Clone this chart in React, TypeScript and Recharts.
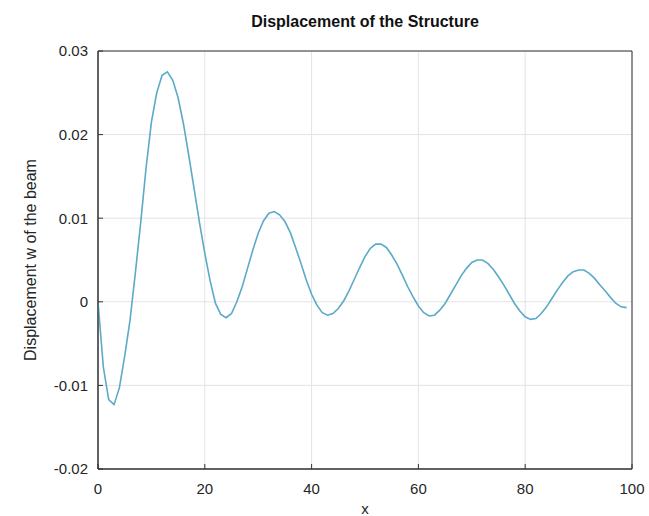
import { LineChart, Line, XAxis, YAxis, CartesianGrid, ReferenceArea } from 'recharts';

const xValues = [
  0, 1, 2, 3, 4, 5, 6, 7, 8, 9,
  10, 11, 12, 13, 14, 15, 16, 17, 18, 19,
  20, 21, 22, 23, 24, 25, 26, 27, 28, 29,
  30, 31, 32, 33, 34, 35, 36, 37, 38, 39,
  40, 41, 42, 43, 44, 45, 46, 47, 48, 49,
  50, 51, 52, 53, 54, 55, 56, 57, 58, 59,
  60, 61, 62, 63, 64, 65, 66, 67, 68, 69,
  70, 71, 72, 73, 74, 75, 76, 77, 78, 79,
  80, 81, 82, 83, 84, 85, 86, 87, 88, 89,
  90, 91, 92, 93, 94, 95, 96, 97, 98, 99,
];

const displacement = [
  0, -0.0078, -0.0117, -0.0123, -0.0103, -0.0065, -0.0022, 0.0035, 0.0095, 0.016,
  0.0215, 0.025, 0.0271, 0.0275, 0.0265, 0.0244, 0.0213, 0.0175, 0.0135, 0.0095,
  0.0058, 0.0025, -0.0002, -0.0015, -0.0019, -0.0014, 0.0, 0.0018, 0.004, 0.0062,
  0.0082, 0.0097, 0.0106, 0.0108, 0.0104, 0.0096, 0.0083, 0.0065, 0.0046, 0.0026,
  0.0009, -0.0004, -0.0013, -0.0016, -0.0014, -0.0008, 0.0001, 0.0013, 0.0027, 0.0041,
  0.0054, 0.0064, 0.0069, 0.0069, 0.0065, 0.0056, 0.0045, 0.0032, 0.0018, 0.0006,
  -0.0005, -0.0013, -0.0017, -0.0016, -0.001, -0.0002, 0.0009, 0.002, 0.0031, 0.004,
  0.0047, 0.005, 0.005, 0.0046, 0.0039, 0.003, 0.002, 0.0009, -0.0002, -0.0011,
  -0.0018, -0.0021, -0.002, -0.0014, -0.0006, 0.0004, 0.0014, 0.0023, 0.0031, 0.0036,
  0.0038, 0.0038, 0.0034, 0.0028, 0.002, 0.0013, 0.0005, -0.0002, -0.0006, -0.0007,
];

const xTicks = [0, 20, 40, 60, 80, 100];
const yTicks = [-0.02, -0.01, 0, 0.01, 0.02, 0.03];

const data = xValues.map((x, i) => ({ x, w: displacement[i] }));

const font = '"Liberation Sans", Arial, sans-serif';
const tickStyle = { fontSize: 15, fill: '#262626', fontFamily: font };

export default function App() {
  return (
    <div style={{ position: 'absolute', left: 0, top: 0, width: 649, height: 516, background: '#fff', fontFamily: font }}>
      <div
        style={{
          position: 'absolute',
          left: 98,
          width: 534,
          top: 13,
          textAlign: 'center',
          fontSize: 16,
          fontWeight: 'bold',
          color: '#111',
        }}
      >
        Displacement of the Structure
      </div>
      <LineChart width={649} height={516} data={data} margin={{ top: 51, right: 17, bottom: 0, left: 38 }}>
        <CartesianGrid stroke="#e3e3e3" strokeWidth={1} />
        <XAxis
          dataKey="x"
          type="number"
          domain={[0, 100]}
          ticks={xTicks}
          height={47}
          tickSize={-5}
          tickMargin={19}
          tick={tickStyle}
          stroke="#333"
          label={{ value: 'x', position: 'insideBottom', offset: 2, fontSize: 15, fill: '#262626', fontFamily: font }}
        />
        <YAxis
          type="number"
          domain={[-0.02, 0.03]}
          ticks={yTicks}
          width={60}
          tickSize={-5}
          tickMargin={15}
          tick={tickStyle}
          stroke="#333"
          tickFormatter={(v: number) => (v === 0 ? '0' : String(v))}
          label={{
            value: 'Displacement w of the beam',
            angle: -90,
            position: 'insideLeft',
            offset: -8,
            style: { textAnchor: 'middle' },
            fontSize: 16,
            fill: '#262626',
            fontFamily: font,
          }}
        />
        <ReferenceArea
          x1={0}
          x2={100}
          y1={-0.02}
          y2={0.03}
          fill="none"
          fillOpacity={0}
          stroke="#333"
          strokeWidth={1}
          ifOverflow="visible"
        />
        <Line
          type="linear"
          dataKey="w"
          stroke="#5aaac8"
          strokeWidth={1.6}
          dot={false}
          isAnimationActive={false}
        />
      </LineChart>
    </div>
  );
}
